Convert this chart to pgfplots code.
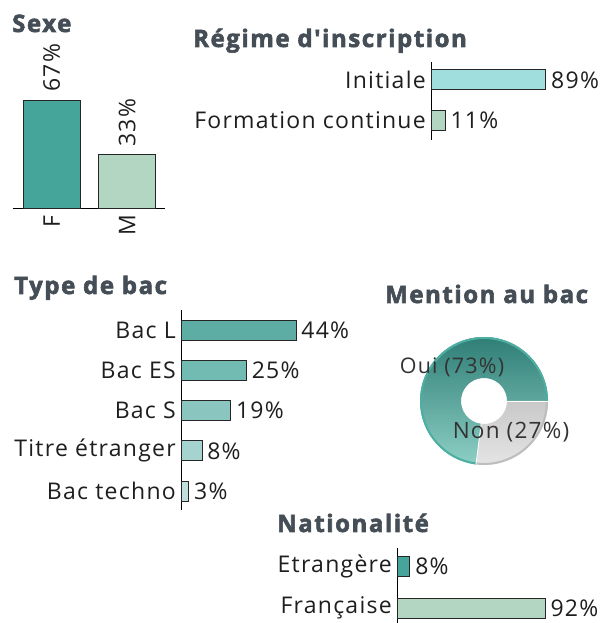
\documentclass[border=0pt]{standalone}
\usepackage{pgfplots}
\pgfplotsset{compat=1.18}
\usepackage{pgfplotstable}
\usepackage{fontspec}
\setmainfont{Open Sans}[LetterSpace=5.5]
\newfontfamily\ttlfam{Open Sans}[LetterSpace=6.5, BoldFeatures={FakeBold=2.5}]
\definecolor{ttl}{HTML}{454E56}
\definecolor{txt}{HTML}{1E1E1E}
\definecolor{tealA}{HTML}{45A59B}
\definecolor{mint}{HTML}{B3D6C3}
\definecolor{cyanL}{HTML}{A0DEDD}
\definecolor{bacL}{HTML}{5DADA5}
\definecolor{bacES}{HTML}{72BBB3}
\definecolor{bacS}{HTML}{8AC6BF}
\definecolor{bacT}{HTML}{A5D3CF}
\definecolor{bacTe}{HTML}{BFE0DD}
\definecolor{donutD}{HTML}{2F7E76}
\definecolor{donutM}{HTML}{44A297}
\definecolor{donutL}{HTML}{8DCFC5}
\definecolor{donutR}{HTML}{4DAEA2}
\definecolor{greyN}{HTML}{DADADA}
\definecolor{greyR}{HTML}{BDBDBD}
\newcommand\lab{\fontsize{23}{27}\selectfont}
\newcommand\ttlfont{\ttlfam\fontsize{24}{28}\selectfont\bfseries}

\pgfplotstableread{
label value
Oui 73
Non 27
}\mentiontab

\pgfplotsset{
  panel/.style={scale only axis, clip=false, major tick length=0pt,
    /pgf/number format/assume math mode=true,
    tick label style={font=\lab, text=txt},
    nodes near coords={\pgfmathprintnumber{\pgfplotspointmeta}\%},
    every node near coord/.append style={font=\lab, text=txt, inner ysep=0pt},
  },
  hpanel/.style={panel, xbar, bar width=20pt, bar shift=0pt, xmin=0,
    axis y line*=left, axis x line=none, point meta=x, xtick=\empty,
    every node near coord/.append style={anchor=west, inner xsep=5pt},
    yticklabel style={anchor=east, inner ysep=0pt, inner xsep=5pt}},
  bars/.style={draw=black!85, line width=0.8pt, bar shift=0pt},
}

\begin{document}
\begin{tikzpicture}

% ---------- Sexe
\begin{axis}[panel, at={(13pt,415pt)}, anchor=south west, width=152pt, height=161pt,
  ybar, bar width=57pt, bar shift=0pt, xmin=-0.51, xmax=1.5, ymin=0, ymax=100,
  axis x line*=bottom, axis y line=none, xtick={0,1}, xticklabels={F,M},
  xticklabel style={rotate=90, anchor=east, inner ysep=0pt, inner xsep=7pt},
  every node near coord/.append style={rotate=90, anchor=west, inner xsep=8pt}]
\addplot[bars, fill=tealA] coordinates {(0,67)};
\addplot[bars, fill=mint] coordinates {(1,33)};
\end{axis}

% ---------- Regime d'inscription
\begin{axis}[hpanel, at={(431pt,483pt)}, anchor=south west, width=129pt, height=78pt,
  xmax=100, ymin=-0.48, ymax=1.44, ytick={0,1},
  yticklabels={Formation continue, Initiale}]
\addplot[bars, fill=mint] coordinates {(11,0)};
\addplot[bars, fill=cyanL] coordinates {(89,1)};
\end{axis}

% ---------- Type de bac
\begin{axis}[hpanel, at={(181pt,113pt)}, anchor=south west, width=130.7pt, height=200pt,
  xmax=50, ymin=-0.47, ymax=4.5, ytick={0,1,2,3,4},
  yticklabels={Bac techno, Titre étranger, Bac S, Bac ES, Bac L}]
\addplot[bars, fill=bacTe] coordinates {(3,0)};
\addplot[bars, fill=bacT] coordinates {(8,1)};
\addplot[bars, fill=bacS] coordinates {(19,2)};
\addplot[bars, fill=bacES] coordinates {(25,3)};
\addplot[bars, fill=bacL] coordinates {(44,4)};
\end{axis}

% ---------- Nationalite
\begin{axis}[hpanel, at={(397pt,0pt)}, anchor=south west, width=161pt, height=75pt,
  xmax=100, ymin=-0.36, ymax=1.45, ytick={0,1},
  yticklabels={Française, Etrangère}]
\addplot[bars, fill=mint] coordinates {(92,0)};
\addplot[bars, fill=tealA] coordinates {(8,1)};
\end{axis}

% ---------- Mention au bac (donut)
\pgfplotstablegetelem{1}{value}\of\mentiontab
\pgfmathsetmacro{\aNon}{-3.6*\pgfplotsretval}
\pgfmathsetmacro{\aOui}{360+\aNon}
\begin{axis}[hide axis, scale only axis, at={(420pt,158pt)}, anchor=south west,
  width=128pt, height=128pt, xmin=-1, xmax=1, ymin=-1, ymax=1, clip=false]
\path[top color=donutD, middle color=donutM, bottom color=donutL]
  (axis cs:0,0) ++(0:64pt) arc[start angle=0, end angle=\aOui, radius=64pt]
  -- ++(\aOui:-41pt) arc[start angle=\aOui, end angle=0, radius=23pt] -- cycle;
\path[top color=greyN!92!black, bottom color=greyN!70!white]
  (axis cs:0,0) ++(0:64pt) arc[start angle=0, end angle=\aNon, radius=64pt]
  -- ++(\aNon:-41pt) arc[start angle=\aNon, end angle=0, radius=23pt] -- cycle;
\draw[donutR, line width=2pt] (axis cs:0,0) ++(0:63pt) arc[start angle=0, end angle=\aOui, radius=63pt];
\draw[greyR, line width=2pt] (axis cs:0,0) ++(0:63pt) arc[start angle=0, end angle=\aNon, radius=63pt];
\draw[white, line width=0.8pt] (axis cs:0,0) ++(0:23pt) -- ++(0:41pt);
\draw[white, line width=0.8pt] (axis cs:0,0) ++(\aNon:23pt) -- ++(\aNon:41pt);
\end{axis}
\node[font=\fontsize{21.5}{25}\selectfont, text=black!80] at (452pt,256pt) {Oui (73\%)};
\node[font=\fontsize{22.5}{26}\selectfont, text=black!80] at (511pt,191pt) {Non (27\%)};

% ---------- Titles
\node[anchor=base west, font=\ttlfont, text=ttl, inner sep=0pt] at (12pt,591pt) {Sexe};
\node[anchor=base west, font=\ttlfont, text=ttl, inner sep=0pt] at (193pt,576pt) {Régime d'inscription};
\node[anchor=base west, font=\ttlfont, text=ttl, inner sep=0pt] at (14pt,329pt) {Type de bac};
\node[anchor=base west, font=\ttlfont, text=ttl, inner sep=0pt] at (385pt,320pt) {Mention au bac};
\node[anchor=base west, font=\ttlfont, text=ttl, inner sep=0pt] at (277pt,91pt) {Nationalité};

\pgfresetboundingbox
\useasboundingbox (0pt,0pt) rectangle (602pt,623pt);
\end{tikzpicture}
\end{document}
